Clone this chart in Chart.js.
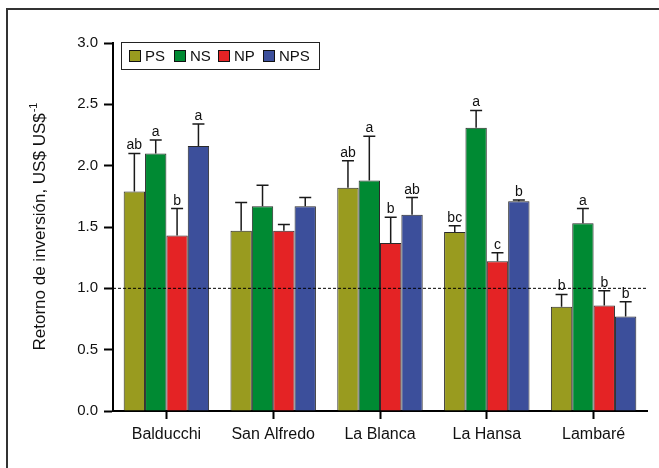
<!DOCTYPE html>
<html>
<head>
<meta charset="utf-8">
<script src="https://cdn.jsdelivr.net/npm/chart.js@4/dist/chart.umd.min.js"></script>
<style>
  html, body { margin: 0; padding: 0; background: #fff; }
  #wrap { width: 659px; height: 468px; }
</style>
</head>
<body>
<div id="wrap"><canvas id="chart1" width="659" height="468"></canvas></div>
<script>
var categories = ['Balducchi', 'San Alfredo', 'La Blanca', 'La Hansa', 'Lambaré'];
var seriesNames = ['PS', 'NS', 'NP', 'NPS'];

var ps  = [1.79, 1.47, 1.82, 1.46, 0.85];
var ns  = [2.10, 1.67, 1.88, 2.31, 1.53];
var np  = [1.43, 1.47, 1.37, 1.22, 0.86];
var nps = [2.16, 1.67, 1.60, 1.71, 0.77];

var psErr  = [0.31, 0.23, 0.22, 0.05, 0.10];
var nsErr  = [0.11, 0.17, 0.36, 0.14, 0.12];
var npErr  = [0.22, 0.05, 0.21, 0.07, 0.12];
var npsErr = [0.18, 0.07, 0.14, 0.01, 0.12];

var psLetters  = ['ab', '', 'ab', 'bc', 'b'];
var nsLetters  = ['a', '', 'a', 'a', 'a'];
var npLetters  = ['b', '', 'b', 'c', 'b'];
var npsLetters = ['a', '', 'ab', 'b', 'b'];

var yTicks = [0, 0.5, 1.0, 1.5, 2.0, 2.5, 3.0];
var refLine = 1.0;

var FONT = '"Liberation Sans", Arial, sans-serif';

function makeSet(label, data, err, letters, color) {
    return {
        label: label,
        data: data,
        err: err,
        letters: letters,
        backgroundColor: color,
        borderColor: '#2a2a2a',
        borderWidth: 1,
        categoryPercentage: 0.8,
        barPercentage: 1.0
    };
}

// frame, y title, error bars, letters, dashed line, legend box
var extras = {
    id: 'extras',
    beforeDraw: function (chart) {
        var c = chart.ctx;
        c.save();
        c.strokeStyle = '#333';
        c.lineWidth = 2;
        c.beginPath();
        c.moveTo(7, 468);
        c.lineTo(7, 9);
        c.lineTo(659, 9);
        c.stroke();
        c.restore();
    },
    afterDatasetsDraw: function (chart) {
        var c = chart.ctx;
        var y = chart.scales.y;
        var area = chart.chartArea;
        c.save();
        chart.data.datasets.forEach(function (ds, i) {
            var meta = chart.getDatasetMeta(i);
            meta.data.forEach(function (bar, j) {
                var top = y.getPixelForValue(ds.data[j]);
                var cap = y.getPixelForValue(ds.data[j] + ds.err[j]);
                c.strokeStyle = '#1a1a1a';
                c.lineWidth = 1.5;
                c.beginPath();
                c.moveTo(bar.x, top);
                c.lineTo(bar.x, cap);
                c.moveTo(bar.x - 6, cap);
                c.lineTo(bar.x + 6, cap);
                c.stroke();
                if (ds.letters[j]) {
                    c.fillStyle = '#111';
                    c.font = '14px ' + FONT;
                    c.textAlign = 'center';
                    c.textBaseline = 'alphabetic';
                    c.fillText(ds.letters[j], bar.x, cap - 4);
                }
            });
        });
        // dashed reference line
        var ry = y.getPixelForValue(refLine);
        c.strokeStyle = '#000';
        c.lineWidth = 1;
        c.setLineDash([3, 2]);
        c.beginPath();
        c.moveTo(area.left, ry);
        c.lineTo(area.right, ry);
        c.stroke();
        c.setLineDash([]);

        // legend
        c.fillStyle = '#fff';
        c.fillRect(121, 42, 198, 27);
        c.strokeStyle = '#222';
        c.lineWidth = 1;
        c.strokeRect(121.5, 42.5, 198, 27);
        var boxX = [129, 174, 218, 263];
        c.font = '15px ' + FONT;
        c.textAlign = 'left';
        c.textBaseline = 'middle';
        chart.data.datasets.forEach(function (ds, i) {
            c.fillStyle = ds.backgroundColor;
            c.fillRect(boxX[i], 50.5, 11, 11);
            c.strokeStyle = '#111';
            c.strokeRect(boxX[i] + 0.5, 50.5, 11, 11);
            c.fillStyle = '#111';
            c.fillText(ds.label, boxX[i] + 16, 56.5);
        });

        // y axis title with superscript
        var cy = (area.top + area.bottom) / 2;
        c.translate(39, cy);
        c.rotate(-Math.PI / 2);
        var main = 'Retorno de inversión, US$ US$';
        c.font = '17px ' + FONT;
        var w1 = c.measureText(main).width;
        c.font = '11px ' + FONT;
        var w2 = c.measureText('-1').width;
        var x0 = -(w1 + w2) / 2;
        c.fillStyle = '#111';
        c.textBaseline = 'alphabetic';
        c.font = '17px ' + FONT;
        c.fillText(main, x0, 6);
        c.font = '11px ' + FONT;
        c.fillText('-1', x0 + w1 + 1, -2);
        c.restore();
    }
};

var ctx = document.getElementById('chart1').getContext('2d');
var chart = new Chart(ctx, {
    type: 'bar',
    data: {
        labels: categories,
        datasets: [
            makeSet(seriesNames[0], ps, psErr, psLetters, '#999b1f'),
            makeSet(seriesNames[1], ns, nsErr, nsLetters, '#008a33'),
            makeSet(seriesNames[2], np, npErr, npLetters, '#e42325'),
            makeSet(seriesNames[3], nps, npsErr, npsLetters, '#3c4f9b')
        ]
    },
    options: {
        responsive: false,
        animation: false,
        devicePixelRatio: 1,
        layout: { padding: { left: 0, top: 43, right: 12, bottom: 0 } },
        plugins: {
            legend: { display: false },
            tooltip: { enabled: false }
        },
        scales: {
            x: {
                afterFit: function (s) { s.height = 57; },
                grid: {
                    offset: false,
                    drawOnChartArea: false,
                    drawTicks: true,
                    tickLength: 8,
                    tickWidth: 2,
                    tickColor: '#000'
                },
                border: { display: true, color: '#000', width: 2 },
                ticks: {
                    color: '#111',
                    padding: 6,
                    maxRotation: 0,
                    font: { family: FONT, size: 16 }
                }
            },
            y: {
                min: 0,
                max: 3,
                afterFit: function (s) { s.width = 113; },
                afterBuildTicks: function (s) {
                    s.ticks = yTicks.map(function (v) { return { value: v }; });
                },
                grid: {
                    drawOnChartArea: false,
                    drawTicks: true,
                    tickLength: 9,
                    tickWidth: 2,
                    tickColor: '#000'
                },
                border: { display: true, color: '#000', width: 2 },
                ticks: {
                    color: '#111',
                    padding: 6,
                    font: { family: FONT, size: 15 },
                    callback: function (v) { return Number(v).toFixed(1); }
                }
            }
        }
    },
    plugins: [extras]
});
</script>
</body>
</html>
